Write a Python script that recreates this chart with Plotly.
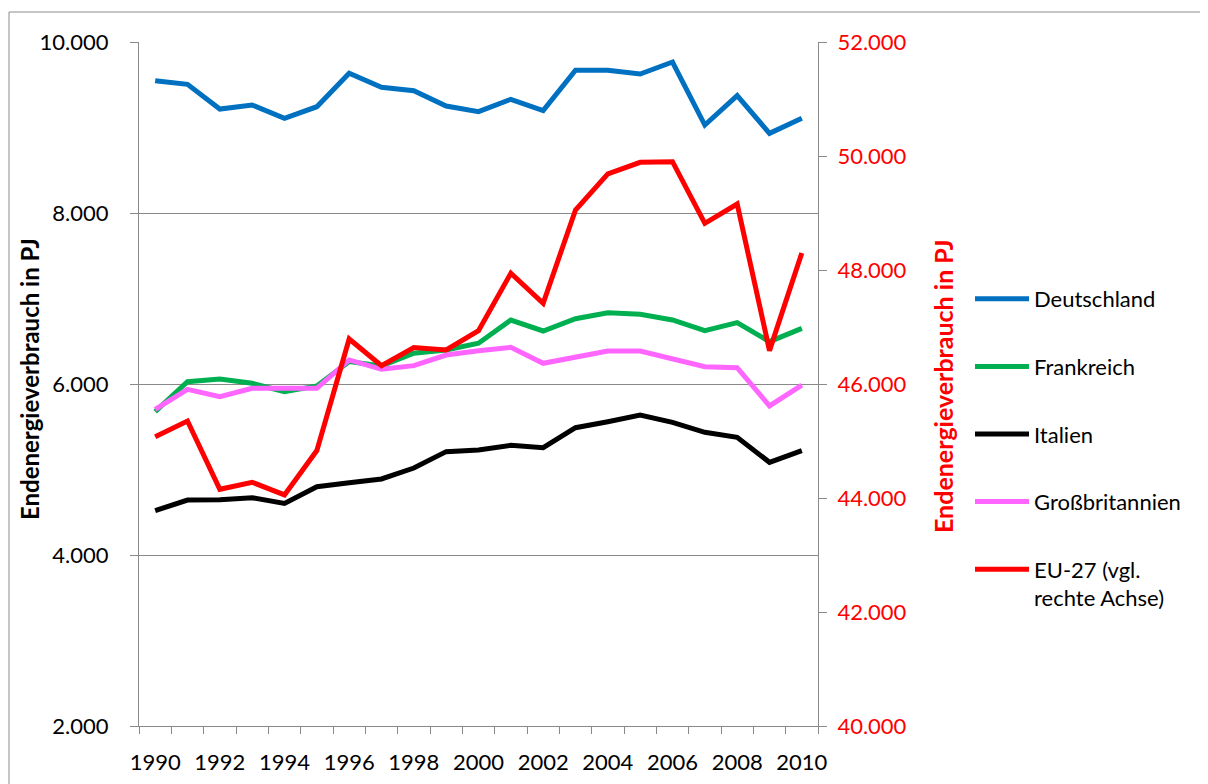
import plotly.graph_objects as go

years = list(range(1990, 2011))
tick_years = [1990, 1992, 1994, 1996, 1998, 2000, 2002, 2004, 2006, 2008, 2010]

deutschland = [9547, 9505, 9216, 9263, 9108, 9243, 9634, 9470, 9430, 9251, 9185,
               9330, 9197, 9669, 9669, 9626, 9766, 9029, 9372, 8932, 9108]
frankreich = [5676, 6027, 6058, 6008, 5910, 5977, 6262, 6211, 6360, 6397, 6477,
              6748, 6620, 6764, 6834, 6815, 6749, 6624, 6718, 6495, 6651]
italien = [4518, 4643, 4645, 4670, 4604, 4799, 4846, 4889, 5017, 5209, 5228,
           5283, 5255, 5489, 5559, 5637, 5552, 5435, 5376, 5084, 5220]
grossbritannien = [5704, 5938, 5852, 5950, 5950, 5950, 6281, 6172, 6215, 6339, 6390,
                   6429, 6242, 6312, 6386, 6386, 6300, 6203, 6191, 5743, 5988]
eu27 = [45076, 45351, 44153, 44276, 44054, 44832, 46790, 46322, 46640, 46597, 46936,
        47943, 47416, 49053, 49685, 49889, 49900, 48819, 49158, 46586, 48299]

series_names = ["Deutschland", "Frankreich", "Italien", "Großbritannien",
                "EU-27 (vgl.<br>rechte Achse)"]
series_colors = ["#0070C0", "#00B050", "#000000", "#FF66FF", "#FF0000"]

GRID = "#898989"
FONT = "Lato"

fig = go.Figure()
for name, vals, col in zip(series_names[:4],
                           [deutschland, frankreich, italien, grossbritannien],
                           series_colors[:4]):
    fig.add_trace(go.Scatter(x=years, y=vals, name=name, mode="lines",
                             line=dict(color=col, width=5), legendgroup=name))
fig.add_trace(go.Scatter(x=years, y=eu27, name=series_names[4], mode="lines",
                         line=dict(color=series_colors[4], width=5),
                         legendgroup="eu", yaxis="y2"))

# page coordinates of the plot area (page has an 8px body offset)
OFF = 8
L, R, T, B = 139, 818, 42, 726
W, H = 1208 - OFF, 784 - OFF


def px(xp):
    return (xp - L) / (R - L)


def py(yp):
    return (B - yp) / (B - T)


fig.update_layout(
    width=W, height=H,
    margin=dict(l=L - OFF, r=W - (R - OFF), t=T - OFF, b=H - (B - OFF),
                autoexpand=False),
    paper_bgcolor="white", plot_bgcolor="white",
    separators=",.",
    font=dict(family=FONT, size=22, color="black"),
    showlegend=True,
    xaxis=dict(range=[1989.5, 2010.5], tickmode="array", tickvals=tick_years,
               ticks="", showgrid=False, zeroline=False, ticklabelstandoff=17,
               showline=True, linecolor=GRID, linewidth=1,
               minor=dict(ticks="outside", tickmode="linear", tick0=1989.5, dtick=1,
                          ticklen=7, tickcolor=GRID, showgrid=False)),
    yaxis=dict(range=[2000, 10000], tickmode="linear", tick0=2000, dtick=2000,
               tickformat=",d", ticks="outside", ticklen=8, tickcolor=GRID,
               ticklabelstandoff=17,
               showgrid=True, gridcolor=GRID, gridwidth=1, zeroline=False,
               showline=True, linecolor=GRID, linewidth=1),
    yaxis2=dict(overlaying="y", side="right", range=[40000, 52000],
                tickmode="linear", tick0=40000, dtick=2000, tickformat=",d",
                ticks="outside", ticklen=8, tickcolor=GRID, showgrid=False,
                ticklabelstandoff=6,
                zeroline=False, showline=True, linecolor=GRID, linewidth=1,
                tickfont=dict(color="#FF0000")),
    legend=dict(x=px(970), y=py(278), xanchor="left", yanchor="top",
                traceorder="grouped", tracegroupgap=36, itemwidth=54,
                valign="top", bgcolor="rgba(0,0,0,0)",
                font=dict(family=FONT, size=22, color="black")),
    shapes=[dict(type="rect", xref="paper", yref="paper",
                 x0=px(9), x1=px(1230), y0=py(12), y1=py(800),
                 line=dict(color="#8c8c8c", width=1), layer="below")],
    annotations=[
        dict(text="<b>Endenergieverbrauch in PJ</b>", xref="paper", yref="paper",
             x=px(29), y=py(379), textangle=-90, showarrow=False,
             xanchor="center", yanchor="middle",
             font=dict(family=FONT, size=24, color="black")),
        dict(text="<b>Endenergieverbrauch in PJ</b>", xref="paper", yref="paper",
             x=px(943), y=py(386), textangle=-90, showarrow=False,
             xanchor="center", yanchor="middle",
             font=dict(family=FONT, size=25, color="#FF0000")),
    ],
)

fig.write_html("out.html")
